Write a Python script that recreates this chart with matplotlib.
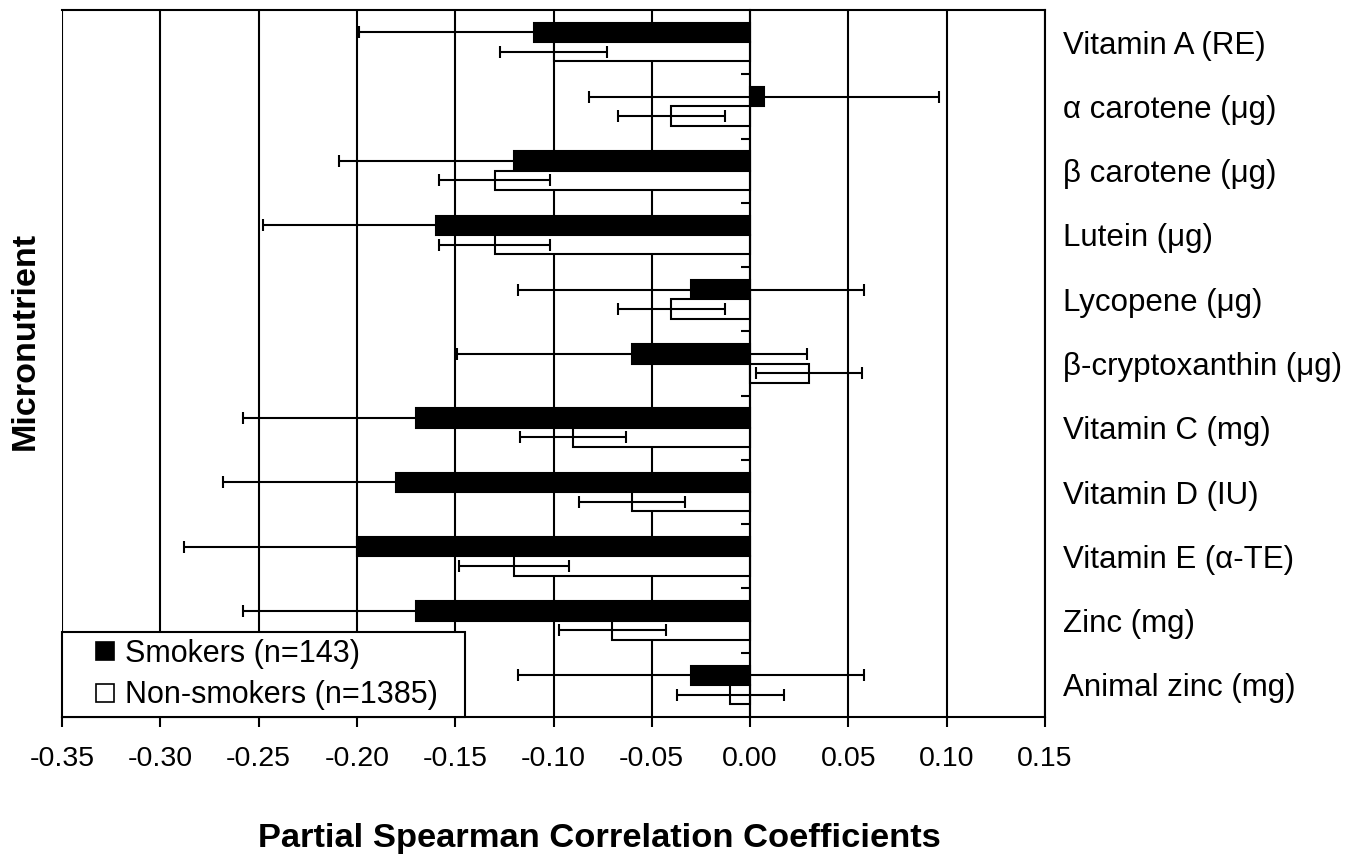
import matplotlib
matplotlib.use("Agg")
import matplotlib.pyplot as plt
from matplotlib.lines import Line2D
import numpy as np

plt.rcParams['font.family'] = ['Liberation Sans', 'DejaVu Sans']

nutrients = ["Vitamin A (RE)", "α carotene (μg)", "β carotene (μg)", "Lutein (μg)",
             "Lycopene (μg)", "β-cryptoxanthin (μg)", "Vitamin C (mg)", "Vitamin D (IU)",
             "Vitamin E (α-TE)", "Zinc (mg)", "Animal zinc (mg)"]
smokers = [-0.11, 0.007, -0.12, -0.16, -0.03, -0.06, -0.17, -0.18, -0.20, -0.17, -0.03]
smokers_err = [0.089, 0.089, 0.089, 0.088, 0.088, 0.089, 0.088, 0.088, 0.088, 0.088, 0.088]
nonsmokers = [-0.10, -0.04, -0.13, -0.13, -0.04, 0.03, -0.09, -0.06, -0.12, -0.07, -0.01]
nonsmokers_err = [0.027, 0.027, 0.028, 0.028, 0.027, 0.027, 0.027, 0.027, 0.028, 0.027, 0.027]
xticks = [-0.35, -0.30, -0.25, -0.20, -0.15, -0.10, -0.05, 0.00, 0.05, 0.10, 0.15]

fig = plt.figure(figsize=(13.5, 8.55), dpi=100)
ax = fig.add_axes([0.0459, 0.1614, 0.7282, 0.8269])

y = np.arange(len(nutrients))
h = 0.3
err_kw = dict(ecolor='black', elinewidth=1.5, capsize=4.5, capthick=1.5, zorder=4)
ax.barh(y - h/2, smokers, height=h, color='black', edgecolor='black', linewidth=1.5,
        xerr=smokers_err, error_kw=err_kw, zorder=3)
ax.barh(y + h/2, nonsmokers, height=h, color='white', edgecolor='black', linewidth=1.5,
        xerr=nonsmokers_err, error_kw=err_kw, zorder=3)

ax.set_xlim(-0.35, 0.15)
ax.set_ylim(len(nutrients) - 0.5, -0.5)
ax.set_xticks(xticks)
ax.set_xticklabels([f"{v:.2f}" for v in xticks])
ax.xaxis.grid(True, color='black', linewidth=1.5, zorder=0)
ax.set_axisbelow(True)

# y axis crosses at zero, tick marks between categories
ax.spines['left'].set_position(('data', 0))
ax.spines['left'].set_zorder(5)
for s in ['top', 'right', 'bottom', 'left']:
    ax.spines[s].set_linewidth(1.5)
ax.set_yticks(y)
ax.set_yticklabels(nutrients)
ax.set_yticks(np.arange(len(nutrients) - 1) + 0.5, minor=True)
ax.tick_params(axis='y', which='major', left=False, right=False, labelleft=False,
               labelright=True, pad=9.5, labelsize=22.5)
ax.tick_params(axis='y', which='minor', left=True, right=False, direction='out',
               length=6.5, width=1.5)
ax.tick_params(axis='x', direction='out', length=7, width=1.5, pad=14, labelsize=20.5)
for lab in ax.get_yticklabels():
    lab.set_horizontalalignment('left')

fig.text(0.4437, 0.019, "Partial Spearman Correlation Coefficients", ha='center',
         va='center', fontsize=24.8, fontweight='bold')
fig.text(0.0185, 0.601, "Micronutrient", rotation=90, ha='center', va='center',
         fontsize=24.6, fontweight='bold')

handles = [Line2D([], [], linestyle='none', marker='s', markersize=13.5,
                  markerfacecolor='black', markeredgecolor='black', markeredgewidth=1.2,
                  label='Smokers (n=143)'),
           Line2D([], [], linestyle='none', marker='s', markersize=13.5,
                  markerfacecolor='white', markeredgecolor='black', markeredgewidth=1.2,
                  label='Non-smokers (n=1385)')]
leg = ax.legend(handles=handles, loc='lower left', bbox_to_anchor=(0, 0, 0.41, 0.12),
                mode='expand', borderaxespad=0, fontsize=22,
                fancybox=False, framealpha=1, edgecolor='black', numpoints=1,
                handlelength=2.37, handletextpad=-0.53, borderpad=0.22, labelspacing=0.38)
leg.get_frame().set_linewidth(1.5)
leg.set_zorder(6)

fig.savefig("out.png", dpi=100)
